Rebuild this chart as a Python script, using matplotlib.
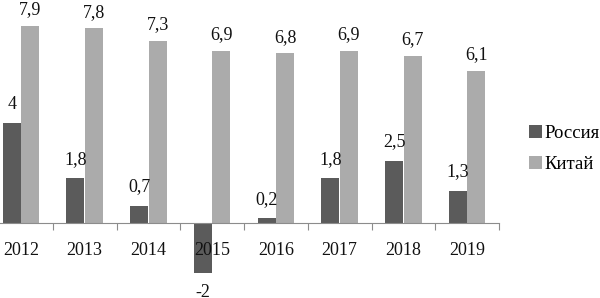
import matplotlib
matplotlib.use("Agg")
import matplotlib.pyplot as plt
import numpy as np

years = ["2012", "2013", "2014", "2015", "2016", "2017", "2018", "2019"]
russia = [4, 1.8, 0.7, -2, 0.2, 1.8, 2.5, 1.3]
china = [7.9, 7.8, 7.3, 6.9, 6.8, 6.9, 6.7, 6.1]
series_names = ["Россия", "Китай"]
label_russia = ["4", "1,8", "0,7", "-2", "0,2", "1,8", "2,5", "1,3"]
label_china = ["7,9", "7,8", "7,3", "6,9", "6,8", "6,9", "6,7", "6,1"]

plt.rcParams['font.family'] = ['Liberation Serif', 'DejaVu Serif']

W, H = 600, 298
fig = plt.figure(figsize=(W / 100, H / 100), dpi=100)

# axes geometry in pixels
x0_px, x1_px = -11, 499
zero_px = 223
ppu = 25.0
ymin, ymax = -3.0, 8.9
top_px = zero_px - ymax * ppu
bot_px = zero_px - ymin * ppu
ax = fig.add_axes([x0_px / W, 1 - bot_px / H, (x1_px - x0_px) / W, (bot_px - top_px) / H])
ax.set_xlim(-0.5, len(years) - 0.5)
ax.set_ylim(ymin, ymax)

x = np.arange(len(years))
bw = 0.28
off = 0.145
c_r = "#5b5b5b"
c_c = "#ababab"
b1 = ax.bar(x - off, russia, bw, color=c_r, label=series_names[0])
b2 = ax.bar(x + off, china, bw, color=c_c, label=series_names[1])

fs = 13
for xi, v, t in zip(x, russia, label_russia):
    if v >= 0:
        ax.annotate(t, (xi - off, v), xytext=(0, 10), textcoords="offset pixels",
                    ha="center", va="bottom", fontsize=fs, color="#111111")
    else:
        ax.annotate(t, (xi - off, v), xytext=(0, -11), textcoords="offset pixels",
                    ha="center", va="top", fontsize=fs, color="#111111")
for xi, v, t in zip(x, china, label_china):
    ax.annotate(t, (xi + off, v), xytext=(0, 7), textcoords="offset pixels",
                ha="center", va="bottom", fontsize=fs, color="#111111")

for s in ["top", "right", "left"]:
    ax.spines[s].set_visible(False)
ax.spines["bottom"].set_position(("data", 0))
ax.spines["bottom"].set_color("#8c8c8c")
ax.spines["bottom"].set_linewidth(0.8)
ax.set_yticks([])
ax.set_xticks(x)
ax.set_xticklabels(years, fontsize=fs, color="#111111")
ax.set_xticks(np.arange(len(years) + 1) - 0.5, minor=True)
ax.tick_params(axis="x", which="major", length=0, pad=14)
ax.tick_params(axis="x", which="minor", length=5, color="#8c8c8c", width=0.8)

leg = fig.legend(handles=[b1, b2], labels=series_names, loc="center left",
                 bbox_to_anchor=(529 / W, 1 - 149 / H), frameon=False,
                 fontsize=13.5, handlelength=0.7, handleheight=0.7,
                 handletextpad=0.12, labelspacing=0.7, borderpad=0, borderaxespad=0)

fig.savefig("out.png", dpi=100)
